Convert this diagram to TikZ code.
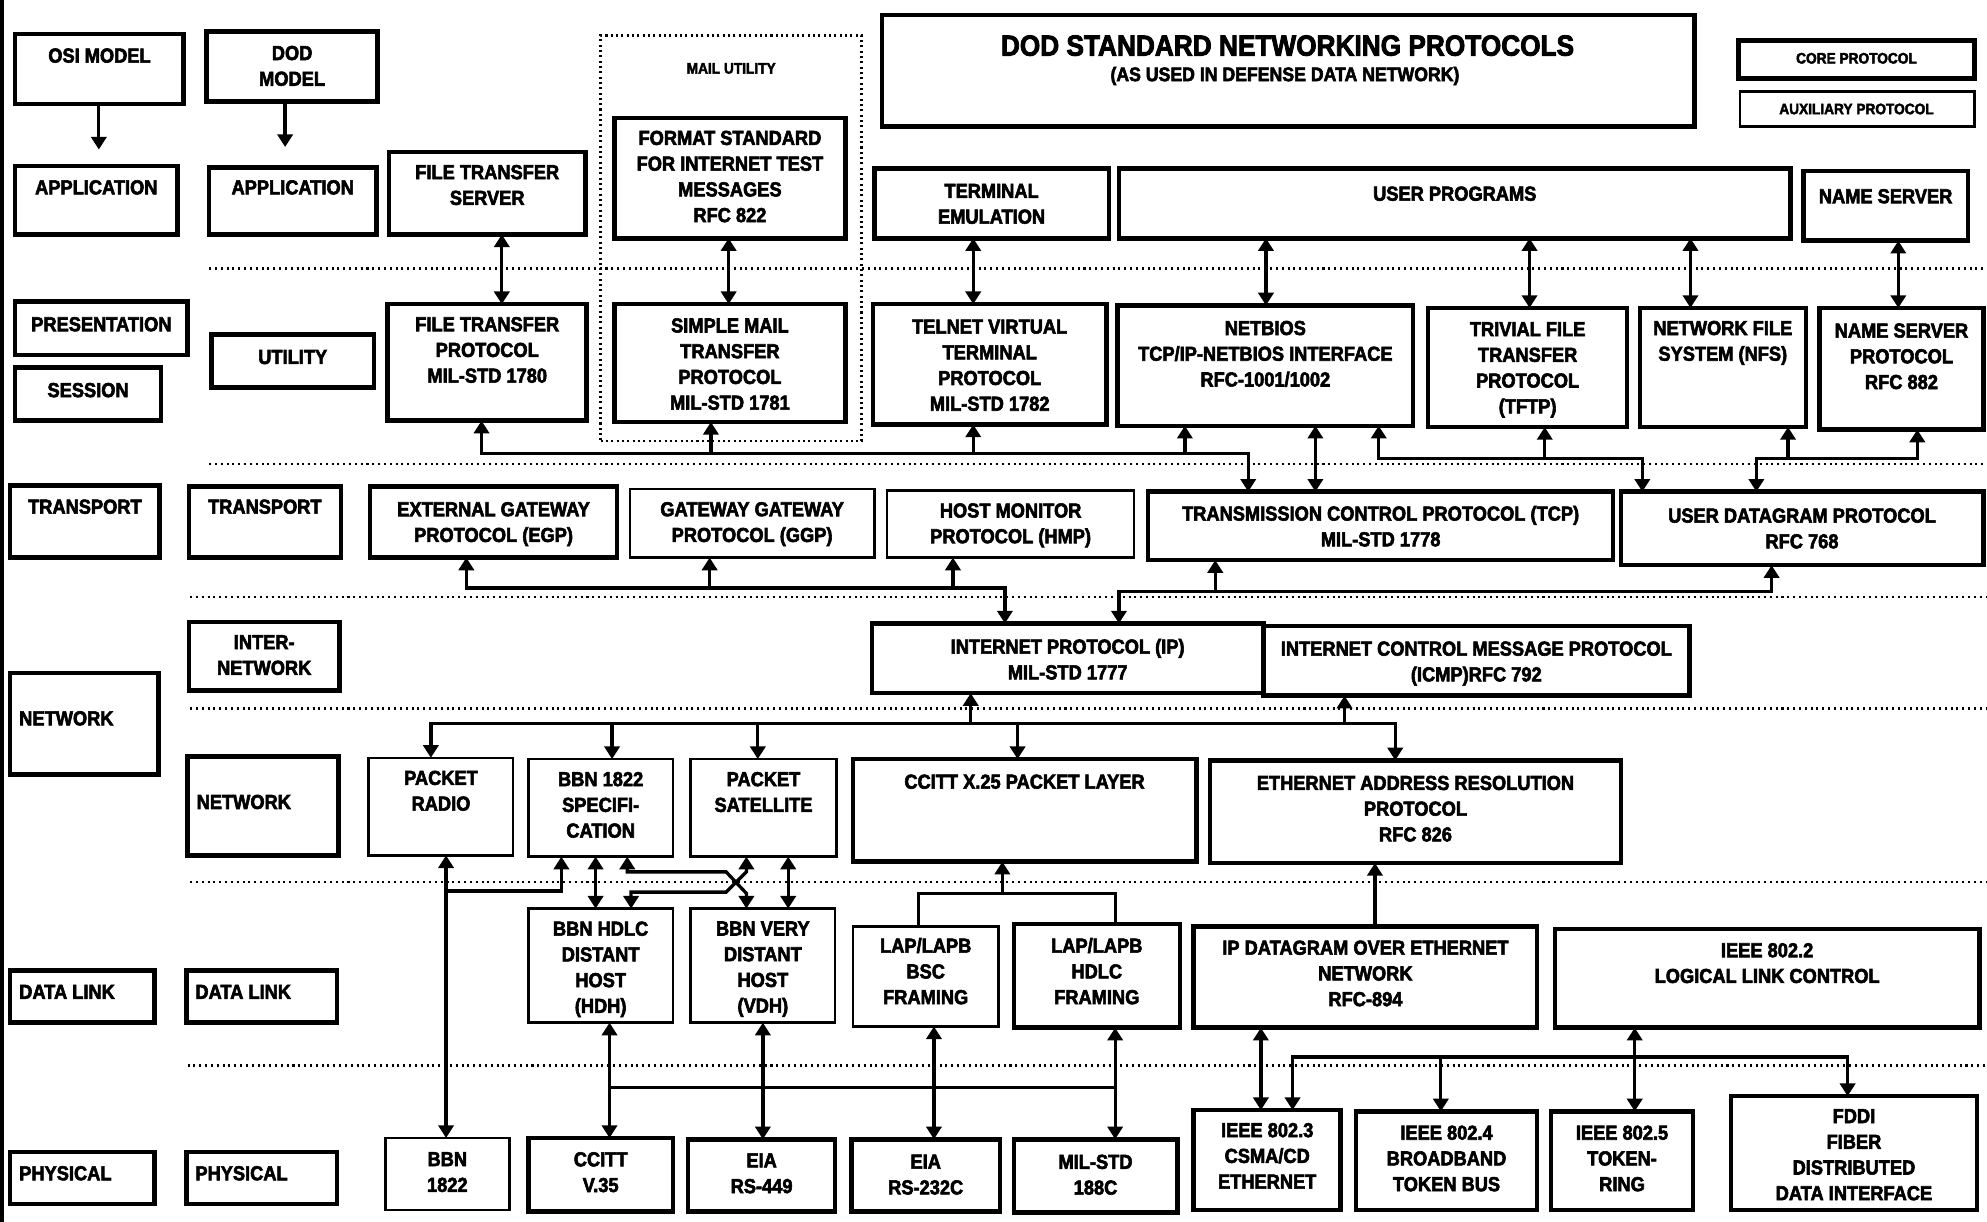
\documentclass[tikz,border=0pt]{standalone}
\usepackage{fontspec}
\newfontfamily\labfont{Liberation Sans}[UprightFont={* Bold}, FakeStretch=0.9, FakeBold=2.8]
\usetikzlibrary{arrows.meta,fit}

\tikzset{
  core/.style={draw, line width=3.6pt, inner sep=0pt, outer sep=0pt},
  aux/.style={draw, line width=2pt, inner sep=0pt, outer sep=0pt},
  txt/.style={inner sep=0pt, align=center, font=\labfont\fontsize{16}{20.3}\selectfont},
  small/.style={inner sep=0pt, align=center, font=\labfont\fontsize{12}{14}\selectfont},
  cn/.style={line width=2.6pt},
  sepline/.style={line width=2pt, dash pattern=on 1.6pt off 3pt},
}

% box with centred text: name, x1, y1, x2, y2, style, first-line y, text
\newcommand\pbox[8]{%
  \node[#6, fit={(#2,#3) (#4,#5)}] (#1) {};
  \node[txt, anchor=north] (#1-t) at ({(#2+#4)/2},{#7-6}) {#8};}
% box with left-aligned text
\newcommand\lbox[8]{%
  \node[#6, fit={(#2,#3) (#4,#5)}] (#1) {};
  \node[txt, anchor=north west] (#1-t) at ({#2+7},{#7-6}) {#8};}

\begin{document}
\begin{tikzpicture}[x=1pt, y=-1pt, >={Triangle[width=12pt,length=10pt]}]
\useasboundingbox (0,0) rectangle (1568,964);
\fill[white] (0,0) rectangle (1568,964);
\draw[line width=3pt] (1.5,0) -- (1.5,964);

% ---------- layer separators ----------
\draw[sepline] (165,212) -- (1568,212);
\draw[sepline] (165,366) -- (1568,366);
\draw[sepline] (150,471) -- (1568,471);
\draw[sepline] (150,559) -- (1568,559);
\draw[sepline] (150,696) -- (1568,696);
\draw[sepline] (148,841) -- (1568,841);

% ---------- header ----------
\node[core, fit={(696,12) (1337,100)}] (title) {};
\node[inner sep=0pt, font=\labfont\fontsize{23}{26}\selectfont] (title-t) at (1016,36) {DOD STANDARD NETWORKING PROTOCOLS};
\node[inner sep=0pt, font=\labfont\fontsize{15.5}{18}\selectfont] (title-s) at (1014,60) {(AS USED IN DEFENSE DATA NETWORK)};
\node[core, fit={(1372,32) (1558,62)}] (core) {};
\node[small] (core-t) at (1465,46) {CORE PROTOCOL};
\node[aux, fit={(1373,72) (1558,100)}] (aux) {};
\node[small] (aux-t) at (1465,86) {AUXILIARY PROTOCOL};
\node[draw, line width=2pt, dash pattern=on 1.6pt off 2.6pt, inner sep=0pt, outer sep=0pt, fit={(474,28) (680,348)}] (mail) {};
\node[small] (mail-t) at (577,54) {MAIL UTILITY};

% ---------- model columns ----------
\pbox{osi}{12}{27}{145}{82}{core}{44}{OSI MODEL}
\pbox{dod}{163}{25}{298}{80}{core}{42}{DOD\\MODEL}
\pbox{osiapp}{12}{131}{140}{185}{core}{148}{APPLICATION}
\pbox{dodapp}{165}{132}{297}{185}{core}{148}{APPLICATION}
\pbox{osipres}{12}{238}{148}{280}{core}{256}{PRESENTATION}
\pbox{osisess}{12}{290}{127}{332}{core}{308}{SESSION}
\pbox{dodutil}{167}{264}{295}{306}{core}{282}{UTILITY}
\pbox{ositrans}{8}{383}{126}{440}{core}{400}{TRANSPORT}
\pbox{dodtrans}{149}{384}{269}{440}{core}{400}{TRANSPORT}
\pbox{dodinter}{149}{491}{268}{545}{core}{507}{INTER-\\NETWORK}
\lbox{osinet}{8}{531}{125}{611}{core}{567}{NETWORK}
\lbox{dodnet}{148}{597}{267}{675}{core}{633}{NETWORK}
\lbox{osilink}{8}{766}{122}{807}{core}{783}{DATA LINK}
\lbox{dodlink}{147}{766}{266}{807}{core}{783}{DATA LINK}
\lbox{osiphys}{8}{909}{122}{950}{core}{926}{PHYSICAL}
\lbox{dodphys}{147}{909}{266}{950}{core}{926}{PHYSICAL}

% ---------- application ----------
\pbox{fts}{307}{120}{462}{185}{core}{136}{FILE TRANSFER\\SERVER}
\pbox{fmt}{485}{93}{667}{188}{core}{109}{FORMAT STANDARD\\FOR INTERNET TEST\\MESSAGES\\RFC 822}
\pbox{temu}{690}{133}{875}{188}{core}{151}{TERMINAL\\EMULATION}
\pbox{uprog}{883}{133}{1413}{188}{core}{153}{USER PROGRAMS}
\pbox{nsrv}{1423}{135}{1553}{190}{core}{155}{NAME SERVER}

% ---------- utility ----------
\pbox{ftp}{306}{240}{463}{332}{core}{256}{FILE TRANSFER\\PROTOCOL\\MIL-STD 1780}
\pbox{smtp}{485}{240}{667}{333}{core}{257}{SIMPLE MAIL\\TRANSFER\\PROTOCOL\\MIL-STD 1781}
\pbox{telnet}{689}{240}{873}{335}{core}{258}{TELNET VIRTUAL\\TERMINAL\\PROTOCOL\\MIL-STD 1782}
\pbox{netbios}{882}{241}{1115}{336}{core}{259}{NETBIOS\\TCP/IP-NETBIOS INTERFACE\\RFC-1001/1002}
\pbox{tftp}{1127}{243}{1284}{337}{core}{260}{TRIVIAL FILE\\TRANSFER\\PROTOCOL\\(TFTP)}
\pbox{nfs}{1294}{243}{1425}{337}{core}{259}{NETWORK FILE\\SYSTEM (NFS)}
\pbox{nsp}{1436}{243}{1565}{339}{core}{261}{NAME SERVER\\PROTOCOL\\RFC 882}

% ---------- transport ----------
\pbox{egp}{292}{384}{487}{440}{core}{402}{EXTERNAL GATEWAY\\PROTOCOL (EGP)}
\pbox{ggp}{497}{386}{690}{440}{aux}{402}{GATEWAY GATEWAY\\PROTOCOL (GGP)}
\pbox{hmp}{700}{387}{895}{440}{aux}{403}{HOST MONITOR\\PROTOCOL (HMP)}
\pbox{tcp}{906}{388}{1273}{442}{core}{405}{TRANSMISSION CONTROL PROTOCOL (TCP)\\MIL-STD 1778}
\pbox{udp}{1279}{388}{1565}{446}{core}{407}{USER DATAGRAM PROTOCOL\\RFC 768}

% ---------- internetwork ----------
\pbox{ip}{688}{492}{997}{547}{core}{510}{INTERNET PROTOCOL (IP)\\MIL-STD 1777}
\pbox{icmp}{997}{494}{1333}{549}{core}{512}{INTERNET CONTROL MESSAGE PROTOCOL\\(ICMP)RFC 792}

% ---------- network ----------
\pbox{prad}{291}{598}{405}{675}{aux}{614}{PACKET\\RADIO}
\pbox{bbnspec}{417}{599}{531}{676}{aux}{615}{BBN 1822\\SPECIFI-\\CATION}
\pbox{psat}{545}{599}{660}{676}{aux}{615}{PACKET\\SATELLITE}
\pbox{x25}{673}{599}{944}{680}{core}{617}{CCITT X.25 PACKET LAYER}
\pbox{arp}{955}{600}{1279}{681}{core}{618}{ETHERNET ADDRESS RESOLUTION\\PROTOCOL\\RFC 826}

% ---------- data link ----------
\pbox{hdh}{417}{717}{531}{807}{aux}{733}{BBN HDLC\\DISTANT\\HOST\\(HDH)}
\pbox{vdh}{545}{717}{659}{807}{aux}{733}{BBN VERY\\DISTANT\\HOST\\(VDH)}
\pbox{bsc}{673}{731}{788}{810}{aux}{746}{LAP/LAPB\\BSC\\FRAMING}
\pbox{hdlc}{800}{729}{931}{811}{core}{746}{LAP/LAPB\\HDLC\\FRAMING}
\pbox{ipeth}{942}{731}{1213}{811}{core}{748}{IP DATAGRAM OVER ETHERNET\\NETWORK\\RFC-894}
\pbox{llc}{1227}{733}{1562}{811}{core}{750}{IEEE 802.2\\LOGICAL LINK CONTROL}

% ---------- physical ----------
\pbox{bbnphy}{304}{898}{402}{955}{aux}{915}{BBN\\1822}
\pbox{v35}{417}{898}{531}{956}{core}{915}{CCITT\\V.35}
\pbox{rs449}{543}{899}{659}{956}{core}{916}{EIA\\RS-449}
\pbox{rs232}{672}{899}{789}{956}{core}{917}{EIA\\RS-232C}
\pbox{mil188}{800}{899}{929}{957}{core}{917}{MIL-STD\\188C}
\pbox{e8023}{942}{876}{1058}{955}{core}{892}{IEEE 802.3\\CSMA/CD\\ETHERNET}
\pbox{e8024}{1070}{877}{1213}{955}{core}{894}{IEEE 802.4\\BROADBAND\\TOKEN BUS}
\pbox{e8025}{1224}{877}{1336}{955}{core}{894}{IEEE 802.5\\TOKEN-\\RING}
\pbox{fddi}{1366}{865}{1560}{955}{core}{881}{FDDI\\FIBER\\DISTRIBUTED\\DATA INTERFACE}

% ---------- model arrows ----------
\coordinate (osiend) at (78,118);
\coordinate (dodend) at (225,116);
\draw[cn,->] (osi.south -| osiend) -- (osiend);
\draw[cn,->] (dod.south -| dodend) -- (dodend);

% ---------- application <-> utility ----------
\draw[cn,<->] (fts.south -| 396,0) -- (ftp.north -| 396,0);
\draw[cn,<->] (fmt.south -| 575,0) -- (smtp.north -| 575,0);
\draw[cn,<->] (temu.south -| 768,0) -- (telnet.north -| 768,0);
\draw[cn,<->] (uprog.south -| 999,0) -- (netbios.north -| 999,0);
\draw[cn,<->] (uprog.south -| 1207,0) -- (tftp.north -| 1207,0);
\draw[cn,<->] (uprog.south -| 1334,0) -- (nfs.north -| 1334,0);
\draw[cn,<->] (nsrv.south -| 1498,0) -- (nsp.north -| 1498,0);

% ---------- utility -> TCP / UDP ----------
\coordinate (b1a) at (380,358); \coordinate (b1e) at (985,358);
\coordinate (b1b) at (561,358); \coordinate (b1c) at (768,358); \coordinate (b1d) at (935,358);
\draw[cn,<->] (ftp.south -| b1a) -- (b1a) -- (b1e) -- (tcp.north -| b1e);
\draw[cn,->] (b1b) -- (smtp.south -| b1b);
\draw[cn,->] (b1c) -- (telnet.south -| b1c);
\draw[cn,->] (b1d) -- (netbios.south -| b1d);
\draw[cn,<->] (netbios.south -| 1038,0) -- (tcp.north -| 1038,0);

\coordinate (b2a) at (1088,362); \coordinate (b2e) at (1296,362); \coordinate (b2b) at (1219,362);
\draw[cn,<->] (netbios.south -| b2a) -- (b2a) -- (b2e) -- (udp.north -| b2e);
\draw[cn,->] (b2b) -- (tftp.south -| b2b);

\coordinate (b3a) at (1513,362); \coordinate (b3e) at (1386,362); \coordinate (b3b) at (1411,362);
\draw[cn,<->] (nsp.south -| b3a) -- (b3a) -- (b3e) -- (udp.north -| b3e);
\draw[cn,->] (b3b) -- (nfs.south -| b3b);

% ---------- transport -> IP ----------
\coordinate (b4a) at (368,464); \coordinate (b4e) at (793,464);
\coordinate (b4b) at (560,464); \coordinate (b4c) at (752,464);
\draw[cn,<->] (egp.south -| b4a) -- (b4a) -- (b4e) -- (ip.north -| b4e);
\draw[cn,->] (b4b) -- (ggp.south -| b4b);
\draw[cn,->] (b4c) -- (hmp.south -| b4c);
\coordinate (b5a) at (1398,467); \coordinate (b5e) at (883,467); \coordinate (b5b) at (959,467);
\draw[cn,<->] (udp.south -| b5a) -- (b5a) -- (b5e) -- (ip.north -| b5e);
\draw[cn,->] (b5b) -- (tcp.south -| b5b);

% ---------- IP -> network ----------
\coordinate (b6a) at (340,571); \coordinate (b6e) at (1101,571);
\coordinate (b6b) at (483,571); \coordinate (b6c) at (598,571); \coordinate (b6d) at (803,571);
\coordinate (b6ip) at (766,571); \coordinate (b6ic) at (1061,571);
\draw[cn,<->] (prad.north -| b6a) -- (b6a) -- (b6e) -- (arp.north -| b6e);
\draw[cn,->] (b6b) -- (bbnspec.north -| b6b);
\draw[cn,->] (b6c) -- (psat.north -| b6c);
\draw[cn,->] (b6d) -- (x25.north -| b6d);
\draw[cn,->] (b6ip) -- (ip.south -| b6ip);
\draw[cn,->] (b6ic) -- (icmp.south -| b6ic);

% ---------- network -> data link / physical ----------
\draw[cn,<->] (prad.south -| 352,0) -- (bbnphy.north -| 352,0);
\coordinate (b7a) at (352,703); \coordinate (b7b) at (443,703);
\draw[cn,->] (b7a) -- (b7b) -- (bbnspec.south -| b7b);
\draw[cn,<->] (bbnspec.south -| 470,0) -- (hdh.north -| 470,0);
\draw[cn,<->] (bbnspec.south -| 495,0) -- (495,688) -- (573,688) -- (589,705) -- (vdh.north -| 589,0);
\draw[cn,<->] (hdh.north -| 498,0) -- (498,704) -- (573,704) -- (589,688) -- (psat.south -| 589,0);
\draw[cn,<->] (psat.south -| 622,0) -- (vdh.north -| 622,0);
\coordinate (b8) at (791,705);
\draw[cn] (bsc.north -| 725,0) -- (725,705) -- (880,705) -- (hdlc.north -| 880,0);
\draw[cn,->] (b8) -- (x25.south -| b8);
\draw[cn,->] (ipeth.north -| 1085,0) -- (arp.south -| 1085,0);

% ---------- data link <-> physical ----------
\draw[cn,<->] (hdh.south -| 481,0) -- (v35.north -| 481,0);
\draw[cn,<->] (vdh.south -| 602,0) -- (rs449.north -| 602,0);
\draw[cn,<->] (bsc.south -| 737,0) -- (rs232.north -| 737,0);
\draw[cn,<->] (hdlc.south -| 880,0) -- (mil188.north -| 880,0);
\coordinate (b9a) at (481,858); \coordinate (b9b) at (880,858);
\draw[cn] (b9a) -- (b9b);
\draw[cn,<->] (ipeth.south -| 995,0) -- (e8023.north -| 995,0);
\draw[cn,<->] (llc.south -| 1290,0) -- (e8025.north -| 1290,0);
\coordinate (b10a) at (1020,834); \coordinate (b10e) at (1458,834); \coordinate (b10b) at (1137,834);
\draw[cn,<->] (e8023.north -| b10a) -- (b10a) -- (b10e) -- (fddi.north -| b10e);
\draw[cn,->] (b10b) -- (e8024.north -| b10b);
\end{tikzpicture}
\end{document}
